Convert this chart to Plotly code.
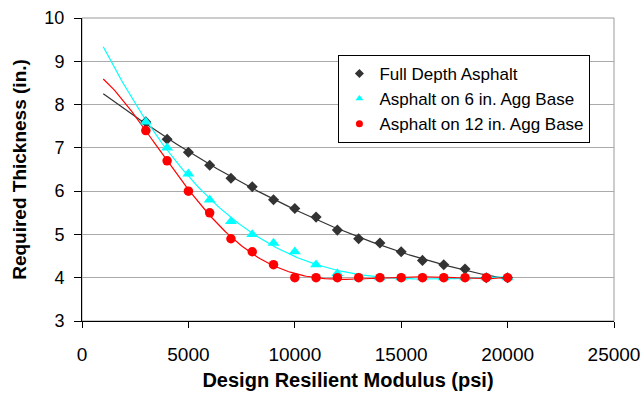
import numpy as np
import plotly.graph_objects as go

modulus = [3000, 4000, 5000, 6000, 7000, 8000, 9000, 10000, 11000, 12000,
           13000, 14000, 15000, 16000, 17000, 18000, 19000, 20000]
full_depth = [7.6, 7.2, 6.9, 6.6, 6.3, 6.1, 5.8, 5.6, 5.4, 5.1,
              4.9, 4.8, 4.6, 4.4, 4.3, 4.2, 4.0, 4.0]
agg6 = [7.6, 7.0, 6.4, 5.8, 5.3, 5.0, 4.8, 4.6, 4.3, 4.1,
        4.0, 4.0, 4.0, 4.0, 4.0, 4.0, 4.0, 4.0]
agg12 = [7.4, 6.7, 6.0, 5.5, 4.9, 4.6, 4.3, 4.0, 4.0, 4.0,
         4.0, 4.0, 4.0, 4.0, 4.0, 4.0, 4.0, 4.0]

series_names = ["Full Depth Asphalt", "Asphalt on 6 in. Agg Base", "Asphalt on 12 in. Agg Base"]
series_colors = ["#333333", "#00FFFF", "#FF0000"]
series_symbols = ["diamond", "triangle-up", "circle"]
marker_sizes = [8.5, 10.5, 9.5]
trend_orders = [2, 3, 5]  # polynomial trendline orders
trend_start = 1000

fig = go.Figure()
xt = np.linspace(trend_start, max(modulus), 200)
xs = np.array(modulus) / 1000.0
for vals, color, order in zip([full_depth, agg6, agg12], series_colors, trend_orders):
    coef = np.polyfit(xs, np.array(vals), order)
    fig.add_trace(go.Scatter(x=xt, y=np.polyval(coef, xt / 1000.0), mode="lines",
                             line=dict(color=color, width=1.2), showlegend=False,
                             hoverinfo="skip"))
for vals, color, sym, ms in zip([full_depth, agg6, agg12], series_colors, series_symbols, marker_sizes):
    fig.add_trace(go.Scatter(x=modulus, y=vals, mode="markers", showlegend=False,
                             marker=dict(color=color, symbol=sym, size=ms, line=dict(width=0))))
for name, color, sym in zip(series_names, series_colors, series_symbols):
    fig.add_trace(go.Scatter(x=[None], y=[None], mode="markers", name=name,
                             marker=dict(color=color, symbol=sym, size=7, line=dict(width=0))))

fig.update_layout(
    width=644, height=394,
    margin=dict(l=82, r=30, t=18, b=73),
    paper_bgcolor="white", plot_bgcolor="white",
    font=dict(family="Liberation Sans, Arial, sans-serif", color="black", size=17),
    legend=dict(x=0.482, y=0.878, xanchor="left", yanchor="top",
                bordercolor="black", borderwidth=1, bgcolor="white",
                font=dict(size=17), tracegroupgap=0),
    shapes=[dict(type="rect", xref="paper", yref="paper", x0=0, y0=0, x1=1, y1=1,
                 line=dict(color="#999999", width=1), layer="below")],
)
fig.update_xaxes(range=[0, 25000], dtick=5000, tick0=0, tickformat="d", showgrid=False,
                 showline=True, linecolor="black", linewidth=1,
                 ticks="outside", ticklen=6, tickcolor="black", tickfont=dict(size=19),
                 ticklabelstandoff=10, automargin=False,
                 title=dict(text="<b>Design Resilient Modulus (psi)</b>", font=dict(size=20), standoff=9),
                 zeroline=False)
fig.update_yaxes(range=[3, 10], dtick=1, showgrid=True, gridcolor="#AAAAAA", gridwidth=1,
                 showline=True, linecolor="black", linewidth=1,
                 ticks="outside", ticklen=7, tickcolor="black", tickfont=dict(size=18),
                 ticklabelstandoff=6, automargin=False,
                 title=dict(text="<b>Required Thickness (in.)</b>", font=dict(size=19), standoff=12),
                 zeroline=False)

fig.write_html("out.html", config={"displayModeBar": False},
               post_script="document.body.style.margin='0';")
